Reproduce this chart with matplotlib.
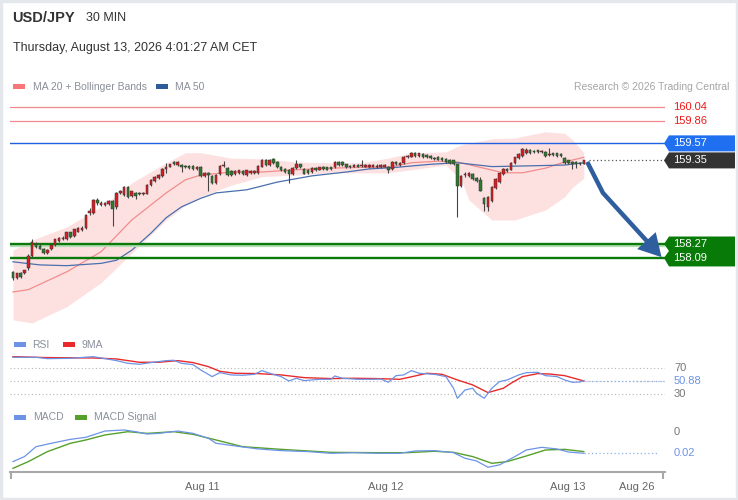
import matplotlib
matplotlib.use('Agg')
import matplotlib.pyplot as plt
from matplotlib.patches import Polygon, Rectangle, FancyArrowPatch
from matplotlib.path import Path
import numpy as np

plt.rcParams['font.family'] = ['Liberation Sans', 'DejaVu Sans']

# ---------------- data ----------------
opens = [157.91,157.83,157.90,157.89,157.96,158.11,158.27,158.25,158.21,158.15,
         158.20,158.26,158.31,158.33,158.33,158.42,158.37,158.43,158.45,158.48,
         158.67,158.67,158.84,158.77,158.77,158.79,158.82,158.75,158.93,158.90,
         159.00,158.89,158.93,158.93,158.91,158.92,159.03,159.08,159.12,159.15,
         159.24,159.27,159.33,159.29,159.29,159.28,159.28,159.28,159.24,159.27,
         159.15,159.19,159.15,159.06,159.17,159.28,159.25,159.21,159.17,159.19,
         159.21,159.16,159.19,159.19,159.19,159.27,159.36,159.29,159.37,159.33,
         159.27,159.24,159.23,159.17,159.25,159.30,159.24,159.23,159.20,159.25,
         159.23,159.27,159.26,159.26,159.26,159.33,159.33,159.30,159.28,159.27,
         159.29,159.28,159.27,159.26,159.27,159.26,159.26,159.27,159.27,159.24,
         159.33,159.29,159.32,159.39,159.40,159.45,159.41,159.43,159.42,159.41,
         159.38,159.40,159.38,159.37,159.36,159.35,159.30,159.02,159.16,159.15,
         159.18,159.12,159.10,158.87,158.75,158.82,158.99,159.07,159.17,159.24,
         159.23,159.32,159.38,159.41,159.44,159.48,159.47,159.48,159.46,159.46,
         159.42,159.44,159.44,159.43,159.38,159.35,159.33,159.33,159.32,159.31]
highs = [157.92,157.90,157.91,157.94,158.14,158.33,158.30,158.27,158.22,158.20,
         158.27,158.34,158.36,158.37,158.43,158.43,158.47,158.49,158.50,158.66,
         158.73,158.85,158.86,158.82,158.81,158.84,158.84,158.94,158.97,159.02,
         159.02,158.96,158.94,158.94,158.94,159.04,159.11,159.15,159.17,159.25,
         159.32,159.31,159.34,159.34,159.30,159.29,159.29,159.29,159.28,159.28,
         159.20,159.20,159.16,159.17,159.29,159.34,159.26,159.22,159.22,159.23,
         159.22,159.23,159.22,159.22,159.29,159.37,159.37,159.37,159.38,159.34,
         159.28,159.25,159.24,159.26,159.35,159.31,159.25,159.24,159.26,159.26,
         159.27,159.28,159.27,159.27,159.34,159.34,159.34,159.31,159.29,159.30,
         159.30,159.35,159.30,159.30,159.30,159.30,159.30,159.30,159.28,159.34,
         159.34,159.33,159.41,159.42,159.46,159.46,159.45,159.44,159.43,159.42,
         159.40,159.41,159.39,159.38,159.37,159.36,159.31,159.16,159.20,159.20,
         159.19,159.13,159.14,158.88,158.89,159.02,159.12,159.20,159.25,159.25,
         159.33,159.40,159.44,159.51,159.51,159.50,159.49,159.49,159.49,159.47,
         159.51,159.45,159.45,159.44,159.39,159.36,159.34,159.34,159.33,159.36]
lows = [157.81,157.82,157.83,157.88,157.93,158.10,158.22,158.20,158.14,158.14,
        158.19,158.25,158.30,158.32,158.32,158.35,158.36,158.42,158.44,158.47,
        158.65,158.66,158.78,158.76,158.76,158.78,158.50,158.72,158.91,158.89,
        158.87,158.88,158.85,158.90,158.90,158.91,159.02,159.07,159.11,159.14,
        159.19,159.26,159.29,159.28,159.20,159.25,159.24,159.23,159.23,159.14,
        159.14,158.95,159.05,159.05,159.16,159.27,159.15,159.15,159.16,159.18,
        159.16,159.15,159.18,159.18,159.18,159.26,159.28,159.28,159.31,159.25,
        159.21,159.19,159.06,159.16,159.24,159.25,159.17,159.18,159.19,159.21,
        159.22,159.23,159.22,159.23,159.25,159.28,159.28,159.25,159.25,159.26,
        159.26,159.27,159.26,159.25,159.26,159.25,159.25,159.26,159.19,159.23,
        159.29,159.28,159.31,159.38,159.39,159.40,159.40,159.38,159.38,159.37,
        159.36,159.35,159.34,159.32,159.31,159.29,158.62,159.01,159.13,159.14,
        159.10,159.07,158.95,158.70,158.70,158.81,158.98,159.06,159.16,159.20,
        159.22,159.31,159.37,159.40,159.43,159.43,159.45,159.45,159.45,159.40,
        159.41,159.41,159.40,159.40,159.31,159.31,159.24,159.25,159.29,159.30]
closes = [157.83,157.89,157.84,157.93,158.11,158.30,158.23,158.21,158.15,158.19,
          158.26,158.33,158.35,158.35,158.42,158.36,158.46,158.48,158.48,158.65,
          158.69,158.84,158.80,158.80,158.80,158.82,158.72,158.93,158.95,159.01,
          158.88,158.95,158.89,158.91,158.93,159.03,159.10,159.14,159.16,159.24,
          159.26,159.30,159.30,159.33,159.27,159.26,159.25,159.24,159.27,159.15,
          159.19,159.16,159.06,159.16,159.28,159.29,159.16,159.16,159.21,159.22,
          159.17,159.22,159.21,159.21,159.28,159.36,159.29,159.35,159.32,159.26,
          159.22,159.20,159.18,159.25,159.31,159.26,159.18,159.19,159.25,159.22,
          159.26,159.24,159.23,159.24,159.33,159.29,159.29,159.26,159.26,159.29,
          159.27,159.29,159.29,159.29,159.29,159.28,159.29,159.29,159.23,159.33,
          159.30,159.32,159.40,159.41,159.45,159.41,159.44,159.39,159.39,159.38,
          159.37,159.36,159.35,159.33,159.32,159.30,159.02,159.15,159.18,159.19,
          159.11,159.08,158.96,158.79,158.88,159.01,159.11,159.19,159.24,159.21,
          159.32,159.39,159.43,159.50,159.48,159.44,159.46,159.46,159.47,159.41,
          159.43,159.42,159.41,159.41,159.32,159.32,159.31,159.31,159.30,159.35]

ma20_idx = [0, 4, 14, 23, 31, 40, 45, 49, 57, 65, 74, 83, 91, 98, 104, 111, 116, 122, 128, 133, 139, 144, 149]
ma20_val = [157.65, 157.68, 157.91, 158.17, 158.58, 158.93, 159.10, 159.16, 159.20, 159.20, 159.23, 159.25,
            159.26, 159.26, 159.32, 159.34, 159.33, 159.26, 159.19, 159.19, 159.25, 159.33, 159.39]

bb_idx = [0, 5, 14, 23, 31, 40, 45, 49, 57, 65, 74, 83, 91, 98, 104, 113, 117, 119, 125, 131, 139, 144, 146, 149]
bb_upper = [158.19, 158.32, 158.49, 158.75, 159.06, 159.32, 159.45, 159.45, 159.38, 159.37, 159.33, 159.32,
            159.32, 159.38, 159.45, 159.46, 159.55, 159.57, 159.63, 159.64, 159.72, 159.70, 159.62, 159.45]
bb_lower = [157.29, 157.25, 157.46, 157.77, 158.15, 158.58, 158.77, 158.88, 159.03, 159.14, 159.16, 159.19,
            159.19, 159.19, 159.23, 159.29, 159.10, 158.84, 158.58, 158.58, 158.71, 158.88, 159.00, 159.12]

ma50_idx = [0, 7, 14, 23, 27, 31, 36, 40, 44, 49, 53, 61, 69, 78, 87, 93, 100, 109, 116, 125, 135, 144, 149]
ma50_val = [158.04, 158.00, 157.99, 158.02, 158.06, 158.19, 158.41, 158.61, 158.75, 158.86, 158.93, 158.97,
            159.07, 159.15, 159.20, 159.24, 159.26, 159.30, 159.32, 159.27, 159.28, 159.29, 159.32]

rsi_idx = [0,6,9,15,21,25,27,30,33,36,40,42,44,47,49,52,54,57,60,63,65,67,70,72,74,76,80,83,84,86,
           90,94,96,98,100,102,104,106,110,113,115,116,118,120,121,123,125,127,129,132,134,137,139,142,144,146,148,149]
rsi_val = [87.2,87.2,85.1,85.6,88.2,84.1,82.0,77.8,76.3,78.9,82.0,82.5,77.8,75.7,67.4,57.0,63.2,59.6,59.1,60.6,
           66.4,62.2,57.0,50.2,54.4,50.7,52.8,52.8,58.0,54.4,52.8,52.8,53.3,48.1,58.5,59.6,66.4,62.2,60.6,57.0,
           38.8,23.1,36.1,38.8,30.9,23.1,38.8,49.2,51.8,59.6,63.2,63.8,58.5,57.0,51.8,48.1,48.6,50.88]

rsi9_idx = [0, 9, 21, 27, 33, 38, 43, 47, 51, 54, 58, 64, 70, 76, 83, 89, 95, 101, 105, 108, 112, 116,
            120, 124, 128, 130, 133, 137, 140, 144, 149]
rsi9_val = [88.2, 86.7, 86.1, 84.6, 79.4, 79.4, 82.0, 78.9, 72.6, 65.3, 62.2, 61.7, 59.6, 55.4, 53.9, 54.4,
            53.9, 52.8, 58.0, 62.2, 60.6, 51.8, 44.0, 32.0, 38.8, 46.6, 57.0, 61.7, 61.1, 58.5, 50.2]

macd_idx = [0, 3, 6, 10, 15, 19, 24, 29, 32, 35, 38, 43, 47, 51, 53, 58, 64, 70, 77, 83, 89, 95, 101,
            105, 110, 115, 118, 121, 124, 127, 131, 134, 138, 142, 145, 149]
macd_val = [-0.0278, -0.0231, -0.0138, -0.0106, -0.0069, -0.0050, 0.0009, 0.0019, 0.0003, -0.0019,
            -0.0013, 0.0009, -0.0013, -0.0059, -0.0106, -0.0131, -0.0159, -0.0175, -0.0184, -0.0200,
            -0.0194, -0.0200, -0.0200, -0.0178, -0.0175, -0.0194, -0.0247, -0.0272, -0.0331, -0.0309,
            -0.0231, -0.0169, -0.0144, -0.0159, -0.0188, -0.0200]
sig_idx = [0, 4, 9, 15, 19, 24, 30, 35, 42, 47, 53, 60, 70, 83, 95, 103, 110, 115, 120, 125, 129, 134, 139, 144, 149]
sig_val = [-0.0341, -0.0278, -0.0184, -0.0106, -0.0075, -0.0028, 0.0003, -0.0013, 0.0003, -0.0022,
           -0.0075, -0.0138, -0.0163, -0.0191, -0.0194, -0.0194, -0.0181, -0.0191, -0.0231, -0.0294,
           -0.0278, -0.0225, -0.0169, -0.0163, -0.0184]

red_levels = [160.04, 159.86]
blue_level = 159.57
last_price = 159.35
green_levels = [158.27, 158.09]
forecast_x = [149.9, 154.0, 169.3]
forecast_y = [159.33, 158.93, 158.10]

date_pos = [49.3, 97.4, 144.9, 162.7]
date_lab = ['Aug 11', 'Aug 12', 'Aug 13', 'Aug 26']

rsi_levels = [70, 50, 30]
rsi_last = 50.88
macd_last = -0.02

# ---------------- layout ----------------
W, H = 738, 500
fig = plt.figure(figsize=(W / 100, H / 100), dpi=100)
fig.patch.set_facecolor('white')

def px_axes(left, top, right, bottom, **kw):
    return fig.add_axes([left / W, 1 - bottom / H, (right - left) / W, (bottom - top) / H], **kw)

deco = fig.add_axes([0, 0, 1, 1], zorder=-5)
deco.set_xlim(0, W); deco.set_ylim(H, 0); deco.axis('off')

ax = px_axes(10, 95, 665, 330)
ax_rsi = px_axes(10, 350, 665, 402)
ax_macd = px_axes(10, 425, 665, 472)
XL = (-0.78, 170.2)
AXW = 655.0
for a in (ax, ax_rsi, ax_macd):
    a.set_facecolor('none')
    a.set_xlim(*XL)
    for s in a.spines.values():
        s.set_visible(False)
    a.set_xticks([]); a.set_yticks([])

ax.set_ylim(157.159, 160.195)
ax_rsi.set_ylim(17.3, 98.6)
ax_macd.set_ylim(-0.03756, 0.00657)

# ---------------- main price panel ----------------
ax.fill_between(bb_idx, bb_lower, bb_upper, color='#fde1e1', lw=0, zorder=1)
ax.plot(ma20_idx, ma20_val, color='#f28c8c', lw=0.9, zorder=2)
ax.plot(ma50_idx, ma50_val, color='#4a6fae', lw=0.9, zorder=2)

def py(npx):
    return npx / 77.4

for lv in red_levels:
    ax.axhline(lv, color='#f08a8a', lw=0.9, zorder=2)
ax.axhline(blue_level, color='#1f5fe0', lw=1.0, zorder=2)
ax.axhline(green_levels[0] - py(2.2), color='#b6deb6', lw=1.6, zorder=2)
for lv in green_levels:
    ax.axhline(lv, color='#0a7a0a', lw=1.7, zorder=2)
ax.plot([150.3, XL[1]], [last_price, last_price], ls=(0, (1, 2)), color='#555555', lw=0.9, zorder=2)

idx = np.arange(len(closes))
o = np.array(opens); c = np.array(closes)
hi = np.array(highs); lo = np.array(lows)
up = c >= o
cols = np.where(up, '#d81e24', '#2d7a2d')
ax.vlines(idx, lo, hi, color='#444444', lw=0.8, zorder=3)
body = np.maximum(np.abs(c - o), 0.012)
ax.bar(idx, body, bottom=np.minimum(o, c), width=0.66, color=cols, edgecolor='#333333',
       lw=0.35, zorder=4)

# forecast arrow
path = Path(list(zip(forecast_x, forecast_y)), [Path.MOVETO, Path.LINETO, Path.LINETO])
arr = FancyArrowPatch(path=path, arrowstyle='-|>,head_length=0.75,head_width=0.42',
                      mutation_scale=15, lw=3.2, color='#2f5e9e', zorder=6,
                      joinstyle='miter', capstyle='butt')
arr.set_clip_on(False)
ax.add_patch(arr)

# right side labels
ty = ax.get_yaxis_transform()
def fx(px):
    return (px - 10) / AXW

for lv in red_levels:
    ax.text(fx(673), lv, f'{lv:.2f}', transform=ty, color='#f01818', fontsize=8,
            va='center', ha='left', clip_on=False)

def tag(level, color):
    hh = py(8)
    pts = [(fx(664), level), (fx(669), level + hh), (fx(735), level + hh),
           (fx(735), level - hh), (fx(669), level - hh)]
    ax.add_patch(Polygon(pts, closed=True, transform=ty, facecolor=color, edgecolor='none',
                         clip_on=False, zorder=5))
    ax.text(fx(673), level, f'{level:.2f}', transform=ty, color='white', fontsize=8,
            va='center', ha='left', clip_on=False, zorder=6)

tag(blue_level, '#1f6ff0')
tag(last_price, '#333333')

g_top = green_levels[0] + py(7.5)
g_bot = green_levels[1] - py(8.5)
g_mid = (green_levels[0] + green_levels[1]) / 2
gpts = [(fx(669), g_top), (fx(735), g_top), (fx(735), g_bot), (fx(669), g_bot),
        (fx(664), green_levels[1]), (fx(669), g_mid), (fx(664), green_levels[0])]
ax.add_patch(Polygon(gpts, closed=True, transform=ty, facecolor='#087a08', edgecolor='none',
                     clip_on=False, zorder=5))
for lv in green_levels:
    ax.text(fx(673), lv, f'{lv:.2f}', transform=ty, color='white', fontsize=8,
            va='center', ha='left', clip_on=False, zorder=6)

# ---------------- RSI panel ----------------
for lv in rsi_levels:
    ax_rsi.axhline(lv, ls=(0, (1, 2.2)), color='#b5b5b5', lw=0.8, zorder=1)
ax_rsi.plot(rsi_idx, rsi_val, color='#6d93e6', lw=0.9, zorder=3)
ax_rsi.plot(rsi9_idx, rsi9_val, color='#e82a2a', lw=1.0, zorder=2)
ax_rsi.plot([rsi_idx[-1], XL[1]], [rsi_last, rsi_last], ls=(0, (1, 2)), color='#8fb0ee', lw=0.9)
tyr = ax_rsi.get_yaxis_transform()
ax_rsi.text(fx(674), 70, '70', transform=tyr, color='#777777', fontsize=8, va='center', clip_on=False)
ax_rsi.text(fx(674), rsi_last, f'{rsi_last:.2f}', transform=tyr, color='#6d93e6', fontsize=8,
            va='center', clip_on=False)
ax_rsi.text(fx(674), 30, '30', transform=tyr, color='#777777', fontsize=8, va='center', clip_on=False)

# ---------------- MACD panel ----------------
ax_macd.plot(macd_idx, macd_val, color='#6d93e6', lw=0.9, zorder=3)
ax_macd.plot(sig_idx, sig_val, color='#55a02a', lw=1.0, zorder=2)
ax_macd.plot([macd_idx[-1], XL[1] - 1.5], [macd_last, macd_last], ls=(0, (1, 2)), color='#8fb0ee', lw=0.9)
tym = ax_macd.get_yaxis_transform()
ax_macd.text(fx(674), 0.0, '0', transform=tym, color='#777777', fontsize=8, va='center', clip_on=False)
ax_macd.text(fx(674), macd_last, '0.02', transform=tym, color='#6d93e6', fontsize=8,
             va='center', clip_on=False)

ax_macd.spines['bottom'].set_visible(True)
ax_macd.spines['bottom'].set_color('#a8a8a8')
ax_macd.spines['bottom'].set_linewidth(1.5)
ax_macd.set_xticks(date_pos)
ax_macd.set_xticklabels(date_lab)
ax_macd.tick_params(axis='x', length=0, pad=7, labelsize=8, labelcolor='#666666')
ax_macd.set_xticks([XL[0] + 0.15, XL[1] - 0.6], minor=True)
ax_macd.tick_params(axis='x', which='minor', length=5, width=1.5, color='#a8a8a8')

# ---------------- header / legends ----------------
deco.text(12, 18, 'USD/JPY', fontsize=10.5, fontweight='bold', color='#333333', va='center')
deco.text(86, 18, '30 MIN', fontsize=9, color='#333333', va='center')
deco.text(13, 48, 'Thursday, August 13, 2026 4:01:27 AM CET', fontsize=9, color='#333333', va='center')

def legend_item(x, y, color, label, tx):
    deco.add_patch(Rectangle((x, y - 2.5), 12, 5, facecolor=color, edgecolor='none'))
    deco.text(tx, y, label, fontsize=7.5, color='#8a8f99', va='center')

legend_item(13, 86.5, '#f77676', 'MA 20 + Bollinger Bands', 33)
legend_item(156, 86.5, '#2f5b9b', 'MA 50', 175)
deco.text(729, 86.5, 'Research \u00a9 2026 Trading Central', fontsize=7.5, color='#a5a5a5',
          va='center', ha='right')

legend_item(14, 344.5, '#6d93e6', 'RSI', 32)
legend_item(63, 344.5, '#e82a2a', '9MA', 81)
legend_item(14, 417.5, '#6d93e6', 'MACD', 33)
legend_item(75, 417.5, '#55a02a', 'MACD Signal', 94)

deco.add_patch(Rectangle((1, 1), W - 2, H - 2, facecolor='none', edgecolor='#e4e7eb', lw=2.5))

fig.savefig('out.png', dpi=100)
